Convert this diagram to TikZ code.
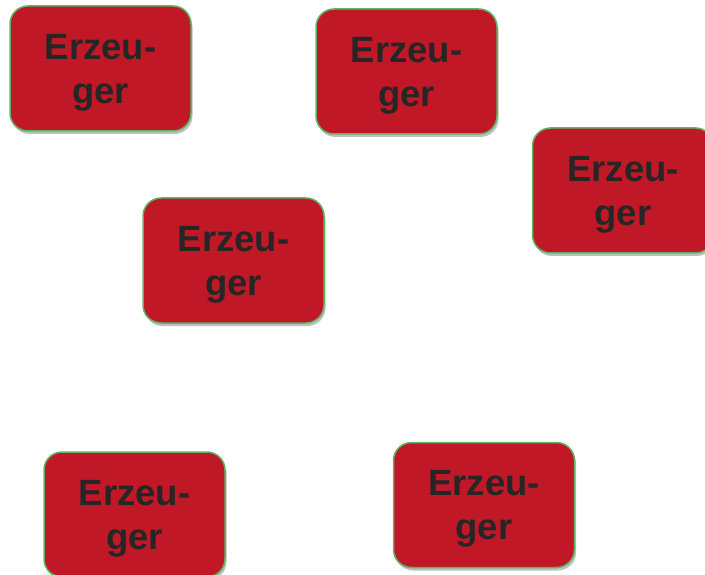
\documentclass[tikz,border=0pt]{standalone}
\usepackage{fontspec}
\setmainfont{Liberation Sans}
\usetikzlibrary{shadows}
\definecolor{boxred}{RGB}{192,24,38}
\definecolor{boxgreen}{RGB}{96,180,100}
\definecolor{txt}{RGB}{38,38,38}
\tikzset{
  erz/.style={draw=boxgreen, line width=1.5pt, fill=boxred, rounded corners=18pt,
    minimum width=181pt, minimum height=125pt, inner sep=0pt, align=center,
    text=txt, font=\fontsize{36.5}{44}\selectfont\bfseries, text depth=0pt,
    drop shadow={shadow xshift=1.5pt, shadow yshift=-3pt, fill=black, opacity=0.25}}
}
\begin{document}
\begin{tikzpicture}[x=1pt,y=-1pt]
\useasboundingbox (0,0) rectangle (705,575);
\node[erz] (e1) at (100.5,68.5) {Erzeu-\\ger};
\node[erz] (e2) at (406.5,71.5) {Erzeu-\\ger};
\node[erz] (e3) at (623,190.5) {Erzeu-\\ger};
\node[erz] (e4) at (233.5,260.5) {Erzeu-\\ger};
\node[erz] (e5) at (134.5,514.5) {Erzeu-\\ger};
\node[erz] (e6) at (484,505) {Erzeu-\\ger};
\end{tikzpicture}
\end{document}
